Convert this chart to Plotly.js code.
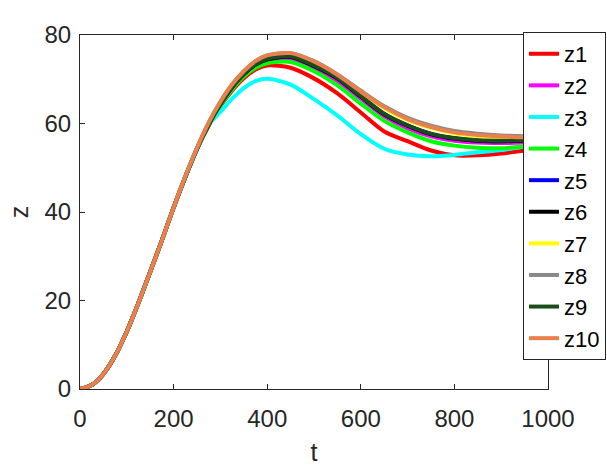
<!DOCTYPE html>
<html>
<head>
<meta charset="utf-8">
<script src="https://cdn.plot.ly/plotly-3.0.1.min.js"></script>
<style>
  html, body { margin: 0; padding: 0; background: #fff; }
  #chart { width: 607px; height: 470px; }
</style>
</head>
<body>
<div id="chart"></div>
<script>
// ── Data ─────────────────────────────────────────────────────────────────
const t = [0, 25, 50, 75, 100, 125, 150, 175, 200, 225, 250, 275, 300, 325, 350, 375, 400,
           450, 500, 550, 600, 650, 700, 750, 800, 850, 900, 950, 1000];

const z1  = [0, 0.9, 3.4, 7.5, 13.0, 19.5, 26.5, 33.6, 41.0, 47.9, 54.2, 59.5, 63.9, 67.4, 70.2, 72.2, 73.1,
             72.6, 70.2, 66.8, 62.5, 58.2, 56.0, 53.9, 52.8, 52.8, 53.2, 53.9, 54.5];
const z2  = [0, 0.9, 3.4, 7.5, 13.0, 19.5, 26.5, 33.6, 41.0, 47.9, 54.3, 59.7, 64.2, 67.9, 70.9, 72.9, 74.1,
             74.5, 72.4, 69.6, 65.6, 61.6, 58.9, 57.1, 56.1, 55.7, 55.6, 55.7, 55.9];
const z3  = [0, 0.9, 3.4, 7.5, 13.0, 19.5, 26.5, 33.6, 41.0, 47.8, 54.0, 59.8, 62.6, 65.6, 68.0, 69.6, 70.1,
             68.8, 65.5, 61.8, 57.6, 54.3, 53.0, 52.6, 52.9, 53.5, 54.0, 54.8, 55.3];
const z4  = [0, 0.9, 3.4, 7.5, 13.0, 19.5, 26.5, 33.6, 41.0, 47.9, 54.3, 59.6, 64.1, 67.7, 70.6, 72.6, 73.6,
             73.9, 71.8, 68.6, 64.5, 60.6, 58.0, 56.0, 55.0, 54.5, 54.4, 54.8, 55.2];
const z5  = [0, 0.9, 3.4, 7.5, 13.0, 19.5, 26.5, 33.6, 41.0, 47.9, 54.3, 59.8, 64.4, 68.2, 71.2, 73.3, 74.5,
             75.1, 73.0, 70.2, 66.1, 62.1, 59.5, 57.6, 56.6, 56.1, 56.0, 56.1, 56.3];
const z6  = [0, 0.9, 3.4, 7.5, 13.0, 19.5, 26.5, 33.6, 41.0, 47.9, 54.3, 59.8, 64.4, 68.2, 71.2, 73.3, 74.5,
             75.1, 73.0, 70.2, 66.1, 62.1, 59.5, 57.6, 56.6, 56.1, 56.0, 56.1, 56.3];
const z7  = [0, 0.9, 3.4, 7.5, 13.0, 19.5, 26.5, 33.6, 41.0, 48.0, 54.4, 60.0, 64.7, 68.6, 71.6, 73.9, 75.2,
             75.7, 73.8, 70.8, 67.0, 63.5, 60.8, 59.0, 57.8, 57.2, 56.9, 56.8, 56.8];
const z8  = [0, 0.9, 3.4, 7.5, 13.0, 19.5, 26.5, 33.6, 41.0, 48.0, 54.5, 60.2, 64.9, 68.8, 71.8, 74.1, 75.4,
             75.9, 74.1, 71.1, 67.4, 63.9, 61.3, 59.5, 58.3, 57.7, 57.3, 57.1, 57.0];
const z9  = [0, 0.9, 3.4, 7.5, 13.0, 19.5, 26.5, 33.6, 41.0, 47.9, 54.3, 59.8, 64.4, 68.2, 71.3, 73.4, 74.6,
             75.2, 73.1, 70.3, 66.2, 62.2, 59.6, 57.7, 56.7, 56.2, 56.1, 56.2, 56.4];
const z10 = [0, 0.9, 3.4, 7.5, 13.0, 19.5, 26.5, 33.6, 41.0, 48.0, 54.5, 60.2, 64.9, 68.8, 71.8, 74.1, 75.4,
             75.9, 74.0, 71.0, 67.2, 63.7, 61.0, 59.2, 58.0, 57.4, 57.1, 56.9, 56.9];

const names  = ['z1', 'z2', 'z3', 'z4', 'z5', 'z6', 'z7', 'z8', 'z9', 'z10'];
const series = [z1, z2, z3, z4, z5, z6, z7, z8, z9, z10];
const colors = ['#ff0000', '#ff00ff', '#00ffff', '#00ff00', '#0000ff',
                '#000000', '#ffff00', '#888888', '#1a4d1a', '#e9804d'];

// ── Chart ────────────────────────────────────────────────────────────────
const traces = series.map((y, i) => ({
    x: t, y: y,
    name: names[i],
    type: 'scatter', mode: 'lines',
    line: { color: colors[i], width: 4, shape: 'spline', smoothing: 0.8 }
}));

const FONT = 'Liberation Sans, Arial';
const axisCommon = {
    showgrid: false, zeroline: false,
    showline: true, linecolor: '#262626', linewidth: 1, mirror: 'ticks',
    ticks: 'inside', ticklen: 5, tickcolor: '#262626',
    tickfont: { family: FONT, size: 24, color: '#262626' }
};

Plotly.newPlot('chart', traces, {
    width: 607, height: 470,
    // keep the plot box fixed; the legend sits over its right edge
    margin: { t: 35, r: 59, b: 81, l: 80, autoexpand: false },
    xaxis: Object.assign({}, axisCommon, {
        range: [0, 1000], dtick: 200, ticklabelstandoff: 8,
        title: { text: 't', standoff: 12, font: { family: FONT, size: 25, color: '#262626' } }
    }),
    yaxis: Object.assign({}, axisCommon, {
        range: [0, 80], dtick: 20, ticklabelstandoff: 3,
        title: { text: 'z', standoff: 8, font: { family: FONT, size: 25, color: '#262626' } }
    }),
    legend: {
        xref: 'container', yref: 'container',
        x: 0.8616, y: 0.932, xanchor: 'left', yanchor: 'top',
        maxheight: 460,
        bgcolor: '#ffffff', bordercolor: '#262626', borderwidth: 1,
        font: { family: FONT, size: 22, color: '#000' }
    },
    showlegend: true,
    paper_bgcolor: '#ffffff',
    plot_bgcolor: '#ffffff'
}, { displayModeBar: false, staticPlot: true });
</script>
</body>
</html>
